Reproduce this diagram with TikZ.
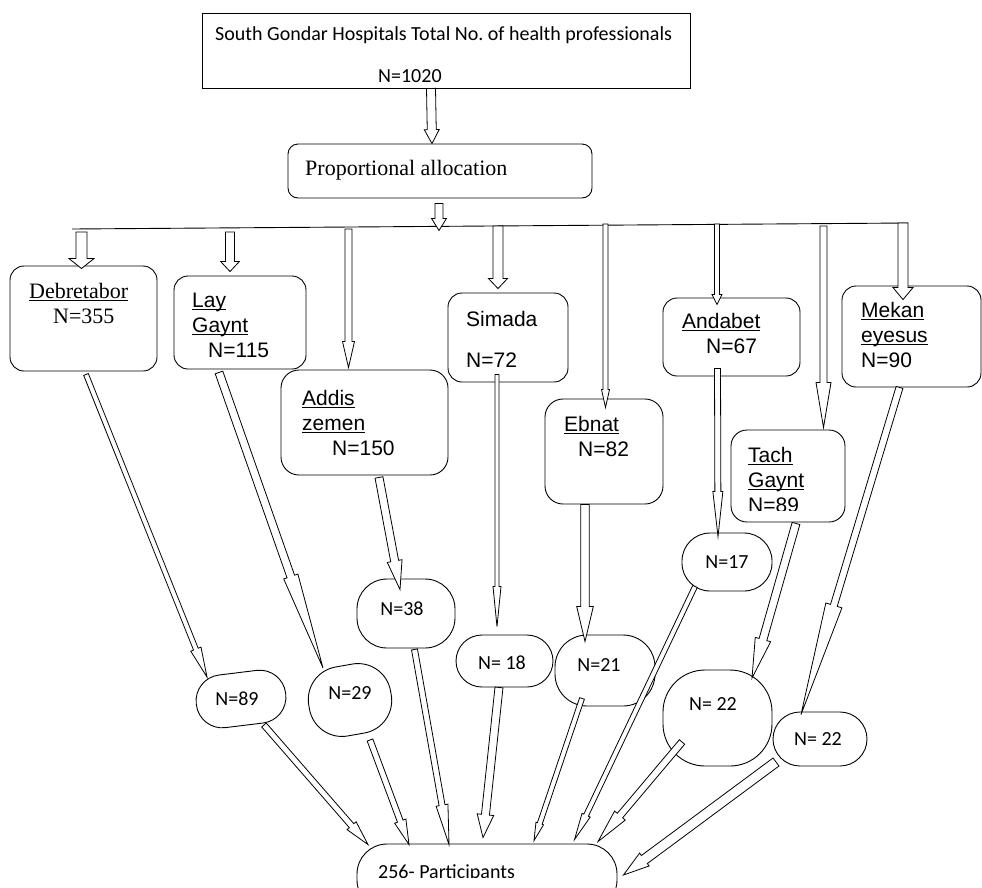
\documentclass[tikz,border=0pt]{standalone}
\usepackage{fontspec}
\setmainfont{Liberation Serif}
\newfontfamily\arialfont{Liberation Sans}
\newfontfamily\calfont{Carlito}
\usetikzlibrary{calc}
\frenchspacing
\tikzset{
  outline/.style={draw, line width=0.9pt},
  cbox/.style={outline, rectangle, rounded corners=#1, inner sep=0pt},
  cbox/.default=14pt,
  arrowline/.style={draw, fill=white, line width=0.8pt, line join=miter},
  serif/.style={font=\fontsize{22}{25}\selectfont, inner sep=0pt, anchor=base west, align=left},
  arial/.style={font=\arialfont\fontsize{21}{25}\selectfont, inner sep=0pt, anchor=base west, align=left},
  calib/.style={font=\calfont\fontsize{20}{25}\selectfont, inner sep=0pt, anchor=base},
}
% underline with a heavier rule
\newcommand{\uln}[1]{\leavevmode\setbox0\hbox{#1}\rlap{\rule[-3pt]{\wd0}{1.5pt}}\box0}
% hollow block arrow: start, end, shaft half width, head half width, head length
\newcommand{\hollowarrow}[5]{%
  \coordinate (hb) at ($(#2)!#5pt!(#1)$);
  \draw[arrowline] ($(#1)!#3pt!90:(#2)$) -- ($(hb)!#3pt!90:(#2)$) -- ($(hb)!#4pt!90:(#2)$)
    -- (#2) -- ($(hb)!#4pt!-90:(#2)$) -- ($(hb)!#3pt!-90:(#2)$) -- ($(#1)!#3pt!-90:(#2)$) -- cycle;}

\begin{document}
\begin{tikzpicture}[x=1pt, y=-1pt]
  \useasboundingbox (0,0) rectangle (982,887);
  \clip (0,0) rectangle (982,887);
  % top and allocation
  \node[outline, rectangle, inner sep=0pt, minimum width=488, minimum height=75] (top) at (446,50.5) {};
  \node[cbox=10pt, minimum width=304, minimum height=54] (prop) at (440,171) {};
  % hospitals
  \node[cbox, minimum width=147, minimum height=105] (deb) at (83.5,318.5) {};
  \node[cbox, minimum width=132, minimum height=93] (lay) at (240,322.5) {};
  \node[cbox=18pt, minimum width=167, minimum height=105] (addis) at (364.5,422.5) {};
  \node[cbox, minimum width=120, minimum height=89] (sim) at (508,337.5) {};
  \node[cbox=18pt, minimum width=118, minimum height=105] (ebn) at (604,451.5) {};
  \node[cbox, minimum width=137, minimum height=78] (andb) at (731.5,337) {};
  \node[cbox=16pt, minimum width=114, minimum height=92] (tach) at (788,476) {};
  \node[cbox, minimum width=139, minimum height=101] (mek) at (911.5,336.5) {};
  % samples
  \node[cbox=26pt, minimum width=90, minimum height=53, rotate=7] (n89) at (241,699) {};
  \node[cbox=33pt, minimum width=83, minimum height=70, rotate=10] (n29) at (350,700) {};
  \node[cbox=30pt, minimum width=98, minimum height=69] (n38) at (406,613.5) {};
  \node[cbox=26pt, minimum width=97, minimum height=52] (n18) at (504.5,661) {};
  \node[cbox=32pt, minimum width=100, minimum height=71] (n21) at (605,670.5) {};
  \node[cbox=28pt, minimum width=90, minimum height=58] (n17) at (727,562) {};
  \node[cbox=42pt, minimum width=109, minimum height=96] (n22a) at (717.5,718) {};
  \node[cbox=27pt, minimum width=94, minimum height=54] (n22b) at (820,739) {};
  \node[cbox=30pt, minimum width=260, minimum height=66] (part) at (487,877) {};
  % distribution bar
  \coordinate (bar-l) at (72,229);
  \coordinate (bar-r) at (908,223);
  \draw[outline] (bar-l) -- (bar-r);
  % arrow ends
  \coordinate (top-o) at ($(top.south)+(-15,0)$);
  \coordinate (prop-i) at ($(prop.north)+(-8,0)$);
  \coordinate (prop-o) at ($(prop.south)+(-1,5)$);
  \coordinate (bar-i) at ($(prop.south)+(-1,32)$);
  \coordinate (tap1) at (81.5,232);
  \coordinate (tap2) at (230,232);
  \coordinate (tap3) at (348.5,229);
  \coordinate (tap4) at (498,226);
  \coordinate (tap5) at (605.5,224);
  \coordinate (tap6) at (717,224);
  \coordinate (tap7) at (823.5,226);
  \coordinate (tap8) at (903,223);
  \coordinate (deb-i) at ($(deb.north)+(-2,3)$);
  \coordinate (lay-i) at ($(lay.north)+(-10,-4)$);
  \coordinate (addis-i) at ($(addis.north)+(-16,-2)$);
  \coordinate (sim-i) at ($(sim.north)+(-10,-4)$);
  \coordinate (ebn-i) at ($(ebn.north)+(1.5,9)$);
  \coordinate (andb-i) at ($(andb.north)+(-14.5,7)$);
  \coordinate (tach-i) at ($(tach.north)+(35.5,-2)$);
  \coordinate (mek-i) at ($(mek.north)+(-8.5,14)$);
  \coordinate (deb-o) at ($(deb.south)+(2.5,3)$);
  \coordinate (lay-o) at ($(lay.south)+(-21,3)$);
  \coordinate (addis-o) at ($(addis.south)+(14.5,2)$);
  \coordinate (sim-o) at ($(sim.south)+(-11,-8)$);
  \coordinate (ebn-o) at ($(ebn.south)+(-19,0)$);
  \coordinate (andb-o) at ($(andb.south)+(-14,-8)$);
  \coordinate (tach-o) at ($(tach.south)+(8,1)$);
  \coordinate (mek-o) at ($(mek.south)+(-12,0)$);
  \coordinate (n89-i) at ($(n89.center)+(-34,-22)$);
  \coordinate (n29-i) at ($(n29.center)+(-27,-32)$);
  \coordinate (n38-i) at ($(n38.north)+(-6,11)$);
  \coordinate (n18-i) at ($(n18.north)+(-7.5,-8)$);
  \coordinate (n21-i) at ($(n21.north)+(-20,7)$);
  \coordinate (n17-i) at ($(n17.north)+(-9,4)$);
  \coordinate (n22a-i) at ($(n22a.center)+(34.5,-40)$);
  \coordinate (n22b-i) at ($(n22b.north)+(-19,3)$);
  \coordinate (n89-o) at ($(n89.center)+(23,26)$);
  \coordinate (n29-o) at ($(n29.center)+(20,40)$);
  \coordinate (n38-o) at ($(n38.south)+(8.5,1)$);
  \coordinate (n18-o) at ($(n18.south)+(-5.5,0)$);
  \coordinate (n21-o) at ($(n21.south)+(-23,-8)$);
  \coordinate (n17-o) at ($(n17.south)+(-32,-5)$);
  \coordinate (n22a-o) at ($(n22a.center)+(-35.5,24)$);
  \coordinate (n22b-o) at ($(n22b.center)+(-44,23)$);
  \coordinate (part-1) at ($(part.north)+(-119,1)$);
  \coordinate (part-2) at ($(part.north)+(-78,1)$);
  \coordinate (part-3) at ($(part.north)+(-38,1)$);
  \coordinate (part-4) at ($(part.north)+(-4,-6)$);
  \coordinate (part-5) at ($(part.north)+(47,-3)$);
  \coordinate (part-6) at ($(part.north)+(87.5,-4)$);
  \coordinate (part-7) at ($(part.north)+(111,-2)$);
  \coordinate (part-8) at ($(part.east)+(6,-2)$);
  % arrows
  \foreach \from/\to/\w/\h/\l in {top-o/prop-i/4.5/7.5/14, prop-o/bar-i/4/7.5/12,
      tap1/deb-i/5.5/12.5/10, tap2/lay-i/4.5/9.3/10, tap3/addis-i/3.5/6/26, tap4/sim-i/5/9.5/10,
      tap5/ebn-i/2.5/4/18, tap6/andb-i/2.5/5/10, tap7/tach-i/3.5/7.5/45, tap8/mek-i/5/10/12,
      deb-o/n89-i/2.5/5.5/30, lay-o/n29-i/4/7.5/97, addis-o/n38-i/4/7.5/29, sim-o/n18-i/2/4/40,
      ebn-o/n21-i/4.2/8.3/35, andb-o/n17-i/3/5/45, tach-o/n22a-i/4/8/40, mek-o/n22b-i/3.5/8.4/114,
      n89-o/part-1/3/6/25, n29-o/part-2/3/6/25, n38-o/part-3/3/6/40, n18-o/part-4/4/8.3/23,
      n21-o/part-5/2.5/4/18, n17-o/part-6/2.5/4.5/27, n22a-o/part-7/3.5/7/34, n22b-o/part-8/5/8/26}
    \hollowarrow{\from}{\to}{\w}{\h}{\l};
  % texts (multi-line nodes sit on the baseline of their last line)
  \node[calib, anchor=base west, align=left] (top-txt) at (215,82)
    {South Gondar Hospitals Total No. of health professionals\\[17pt]\hspace*{163pt}N=1020};
  \node[serif] (prop-txt) at (305,175) {Proportional allocation};
  \node[serif] (deb-txt) at (29,323) {\uln{Debretabor}\\\hspace*{24pt}N=355};
  \node[arial] (lay-txt) at (192,357) {\uln{Lay}\\\uln{Gaynt}\\\hspace*{16pt}N=115};
  \node[arial] (addis-txt) at (302,455) {\uln{Addis}\\\uln{zemen}\\\hspace*{30pt}N=150};
  \node[arial] (sim-txt) at (466,367) {Simada\\[16pt]N=72};
  \node[arial] (ebn-txt) at (564,456) {\uln{Ebnat}\\\hspace*{14pt}N=82};
  \node[arial] (andb-txt) at (682,353) {\uln{Andabet}\\\hspace*{24pt}N=67};
  \begin{scope}
    \clip (731,430) rectangle (845,510.5);
    \node[arial] (tach-txt) at (748,512) {\uln{Tach}\\\uln{Gaynt}\\N=89};
  \end{scope}
  \node[arial] (mek-txt) at (861,367) {\uln{Mekan}\\\uln{eyesus}\\N=90};
  \node[calib] (n89-txt) at (237,705) {N=89};
  \node[calib] (n29-txt) at (350,699) {N=29};
  \node[calib] (n38-txt) at (402,615) {N=38};
  \node[calib] (n18-txt) at (502,669) {N= 18};
  \node[calib] (n21-txt) at (599,671) {N=21};
  \node[calib] (n17-txt) at (727,568) {N=17};
  \node[calib] (n22a-txt) at (713,710) {N= 22};
  \node[calib] (n22b-txt) at (818,745) {N= 22};
  \begin{scope}
    \clip (357,844) rectangle (617,877);
    \node[calib, anchor=base west] (part-txt) at (378,878) {256- Participants};
  \end{scope}
\end{tikzpicture}
\end{document}
